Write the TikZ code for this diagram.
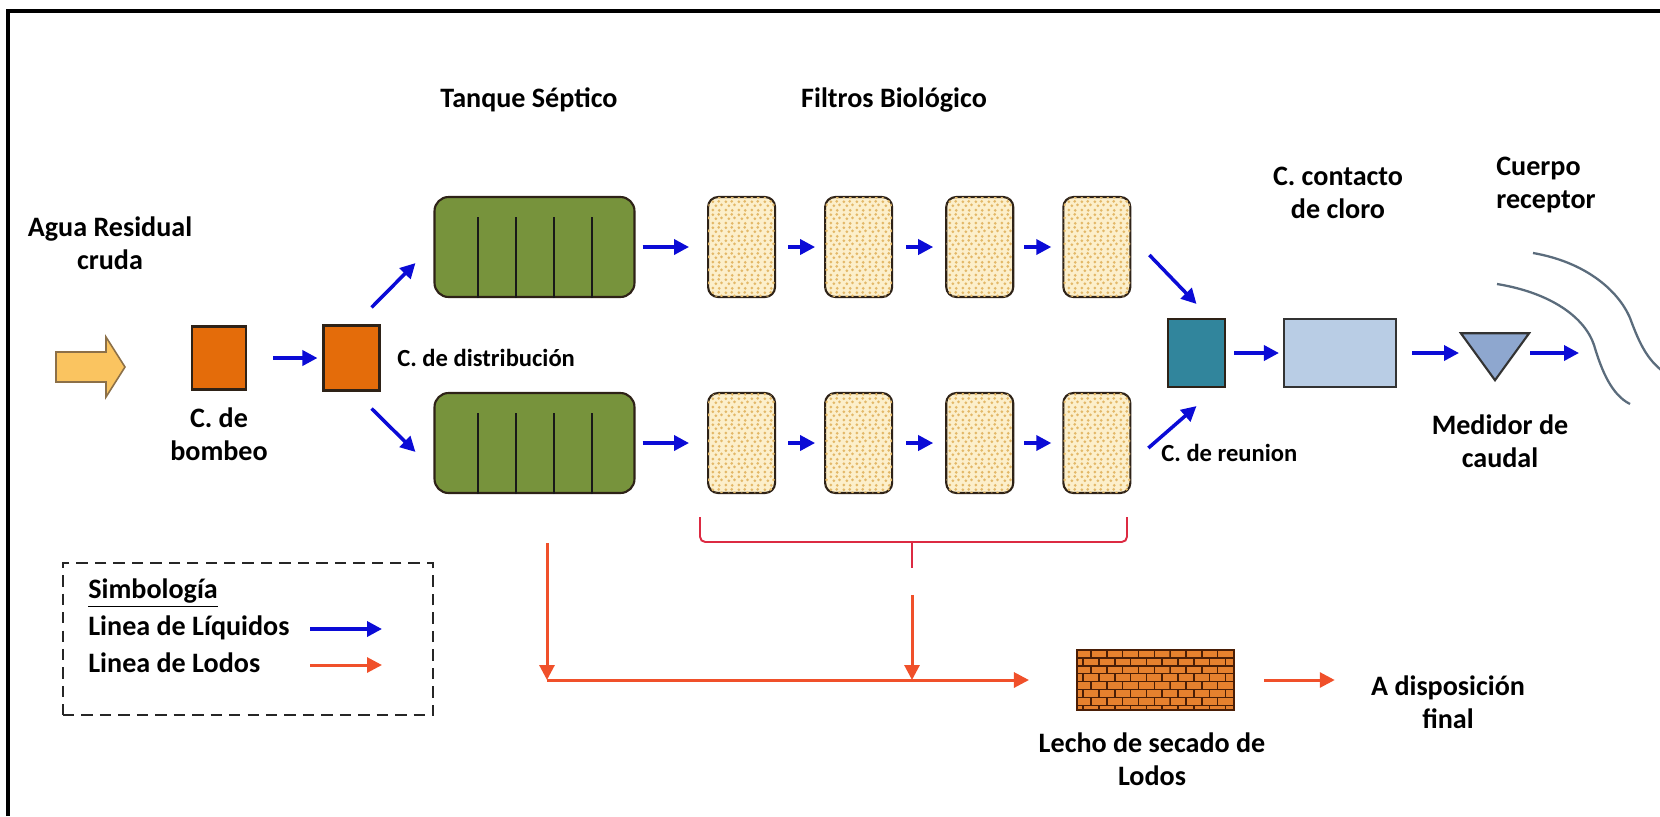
\documentclass[tikz,border=0pt]{standalone}
\usepackage{fontspec}
\setmainfont{Carlito}
\usepackage{xcolor}
\usepackage{tikz}
\usetikzlibrary{positioning,arrows.meta,calc,shapes.geometric,patterns.meta}

\definecolor{cajanaranja}{HTML}{E46C0A}
\definecolor{bordeoscuro}{HTML}{2E2217}
\definecolor{verdetanque}{HTML}{77933C}
\definecolor{arena}{HTML}{FCEFCB}
\definecolor{grano}{HTML}{E3B868}
\definecolor{azulreunion}{HTML}{31859C}
\definecolor{azulcloro}{HTML}{B9CDE5}
\definecolor{azulmedidor}{HTML}{8EA7CF}
\definecolor{liquido}{HTML}{0B0BD6}
\definecolor{lodo}{HTML}{F0502A}
\definecolor{llaveroja}{HTML}{DC2A42}
\definecolor{entrada}{HTML}{FAC460}
\definecolor{bordeentrada}{HTML}{8C7048}
\definecolor{ladrillo}{HTML}{E6812E}
\definecolor{mortero}{HTML}{4A1E06}
\definecolor{azulrio}{HTML}{5B6C7C}

% speckled filter media
\tikzdeclarepattern{
  name=grava,
  type=uncolored,
  bottom left={(0pt,0pt)},
  top right={(7.5pt,7.5pt)},
  tile size={(7.5pt,7.5pt)},
  code={
    \foreach \a/\b in {1.1/1.2, 4.9/1, 2.9/3.8, 6.3/4.3, 1.1/6.2, 4.6/6.4}
      \fill (\a pt,\b pt) circle (0.9pt);
  }
}

% brick courses for the drying bed
\tikzdeclarepattern{
  name=ladrillos,
  type=uncolored,
  bottom left={(-0.5pt,-0.5pt)},
  top right={(9.5pt,9.5pt)},
  tile size={(9pt,9pt)},
  code={
    \draw[line width=0.9pt] (-0.5pt,0pt) -- (9.5pt,0pt) (-0.5pt,4.5pt) -- (9.5pt,4.5pt)
      (0pt,0pt) -- (0pt,4.5pt) (4.5pt,4.5pt) -- (4.5pt,9pt);
  }
}

\begin{document}
\begin{tikzpicture}[
  x=0.02cm, y=-0.02cm,
  every node/.style = {font=\fontsize{16}{18.8}\selectfont\bfseries},
  lbl/.style     = {align=center, inner sep=0pt},
  small/.style   = {lbl, font=\fontsize{14}{17}\selectfont\bfseries},
  caja/.style    = {draw=bordeoscuro, line width=1.2pt, inner sep=0pt},
  bomba/.style   = {caja, fill=cajanaranja, minimum width=1.08cm, minimum height=1.26cm},
  tanque/.style  = {caja, fill=verdetanque, rounded corners=0.28cm,
                    minimum width=4cm, minimum height=2cm},
  filtro/.style  = {caja, fill=arena, rounded corners=0.2cm,
                    minimum width=1.34cm, minimum height=2cm,
                    postaction={pattern=grava, pattern color=grano}},
  reunion/.style = {caja, fill=azulreunion, minimum width=1.14cm, minimum height=1.36cm},
  cloro/.style   = {caja, fill=azulcloro, draw=black!80, minimum width=2.24cm, minimum height=1.36cm},
  medidor/.style = {caja, isosceles triangle, isosceles triangle apex angle=72,
                    shape border rotate=-90, fill=azulmedidor, draw=black!80, minimum size=0.94cm},
  secado/.style  = {caja, draw=mortero, fill=ladrillo, minimum width=3.14cm, minimum height=1.2cm,
                    postaction={pattern=ladrillos, pattern color=mortero}},
  tabique/.style = {line width=1.1pt, black!90},
  liq/.style     = {-{Triangle[length=0.3cm, width=0.3cm]}, line width=2pt, liquido},
  lod/.style     = {-{Triangle[length=0.3cm, width=0.3cm]}, line width=1.7pt, lodo},
  llave/.style   = {line width=1.1pt, llaveroja, rounded corners=3pt},
  corriente/.style = {line width=1.3pt, azulrio}
]
\useasboundingbox (0,0) rectangle (1660,816);

% frame
\draw[line width=2.3pt] (8,816) -- (8,11) -- (1660,11);

% raw water inlet
\draw[fill=entrada, draw=bordeentrada, line width=0.9pt]
  (56,352) -- (106,352) -- (106,337) -- (125,367) -- (106,397) -- (106,382) -- (56,382) -- cycle;
\node[lbl] (agua) at (110,243) {Agua Residual\\cruda};

% pumping and distribution
\node[bomba] (bombeo) at (219,358) {};
\node[bomba, minimum width=1.12cm, minimum height=1.3cm] (dist) at (351.5,358) {};
\node[lbl, below=0.34cm of bombeo] (bombeolbl) {C. de\\bombeo};
\node[small, anchor=west] (distlbl) at (397,358) {C. de distribución};

\draw[liq, shorten <=0.52cm, shorten >=0.1cm] (bombeo) -- (dist);

% septic tanks
\node[lbl] (tanquelbl) at (529,100) {Tanque Séptico};
\node[tanque] (tq1) at (534.5,247) {};
\node[tanque] (tq2) at (534.5,443) {};
\foreach \t in {tq1,tq2}
  \foreach \dx in {0.9,1.66,2.42,3.18}
    \draw[tabique] ([xshift=\dx cm]\t.south west) -- ([xshift=\dx cm, yshift=-0.42cm]\t.north west);

\draw[liq] ($(dist.north east)+(-9,-17)$) -- ($(tq1.south west)+(-18,-35)$);
\draw[liq] ($(dist.south east)+(-9,17)$) -- ($(tq2.north west)+(-18,60)$);

% biological filters
\node[lbl] (filtroslbl) at (894,100) {Filtros Biológico};
\node[filtro, right=1.43cm of tq1] (f1a) {};
\node[filtro, right=0.96cm of f1a] (f2a) {};
\node[filtro, right=1.04cm of f2a] (f3a) {};
\node[filtro, right=0.96cm of f3a] (f4a) {};
\node[filtro, right=1.43cm of tq2] (f1b) {};
\node[filtro, right=0.96cm of f1b] (f2b) {};
\node[filtro, right=1.04cm of f2b] (f3b) {};
\node[filtro, right=0.96cm of f3b] (f4b) {};

\draw[liq, shorten <=0.14cm, shorten >=0.36cm] (tq1) -- (f1a);
\draw[liq, shorten <=0.14cm, shorten >=0.36cm] (tq2) -- (f1b);
\draw[liq, shorten <=0.24cm, shorten >=0.18cm] (f1a) -- (f2a);
\draw[liq, shorten <=0.26cm, shorten >=0.24cm] (f2a) -- (f3a);
\draw[liq, shorten <=0.2cm, shorten >=0.22cm] (f3a) -- (f4a);
\draw[liq, shorten <=0.24cm, shorten >=0.18cm] (f1b) -- (f2b);
\draw[liq, shorten <=0.26cm, shorten >=0.24cm] (f2b) -- (f3b);
\draw[liq, shorten <=0.2cm, shorten >=0.22cm] (f3b) -- (f4b);

% collection, chlorination, metering
\node[reunion] (reun) at (1196.5,353) {};
\node[small, anchor=west] (reunlbl) at (1161,453) {C. de reunion};
\node[cloro] (cloro) at (1340,353) {};
\node[lbl] (clorolbl) at (1338,193) {C. contacto\\de cloro};
\node[medidor, anchor=apex] (med) at (1495,382) {};
\node[lbl] (medlbl) at (1500,441) {Medidor de\\caudal};
\node[lbl, align=left, anchor=west] (cuerpolbl) at (1496,185) {Cuerpo\\receptor};
\coordinate (cuerpo) at (1579,353);

\draw[liq] ($(f4a.east)+(18,8)$) -- ($(reun.north)+(0,-14)$);
\draw[liq] ($(f4b.east)+(17,5)$) -- ($(reun.south)+(0,18)$);
\draw[liq, shorten <=0.16cm, shorten >=0.08cm] (reun) -- (cloro);
\draw[liq, shorten <=0.3cm, shorten >=0.72cm] (cloro.east) -- (cloro.east -| med.apex);
\draw[liq, shorten <=0.7cm] (cloro.east -| med.apex) -- (cuerpo);

% receiving stream
\draw[corriente] (1533,253) .. controls (1585,262) and (1618,290) .. (1630,318)
  .. controls (1640,345) and (1648,362) .. (1668,375);
\draw[corriente] (1497,284) .. controls (1552,293) and (1585,318) .. (1594,345)
  .. controls (1602,372) and (1612,395) .. (1630,404);

% sludge line
\draw[llave] (700,517) -- (700,542) -- (1127,542) -- (1127,517);
\draw[llave] (912,542) -- (912,568);
\coordinate (llave) at (912,568);
\coordinate (purga) at (547,543);

\node[secado] (lecho) at (1155.5,680) {};
\node[lbl] (lecholbl) at (1152,759) {Lecho de secado de\\Lodos};
\node[lbl] (displbl) at (1448,702) {A disposición\\final};

\draw[lod] (purga) -- (purga |- lecho);
\draw[lod, shorten >=0.94cm] (purga |- lecho) -- (lecho);
\draw[lod] ($(llave)+(0,27)$) -- (llave |- lecho);
\draw[lod, shorten <=0.58cm, shorten >=0.72cm] (lecho.east) -- (lecho.east -| displbl.west);

% legend
\node[draw=black!85, dash pattern=on 6.5pt off 4pt, line width=1.4pt,
      minimum width=7.4cm, minimum height=3.04cm] (simb) at (248,639) {};
\node[lbl, anchor=west] (simblbl) at (88,593) {\underline{Simbología}};
\node[lbl, anchor=west] (legliq) at (88,628) {Linea de Líquidos};
\node[lbl, anchor=west] (leglod) at (88,663) {Linea de Lodos};
\coordinate (mliq) at (310,629);
\coordinate (mlod) at (310,665);
\draw[liq] (mliq) -- ++(72,0);
\draw[lod] (mlod) -- ++(72,0);

\end{tikzpicture}
\end{document}
